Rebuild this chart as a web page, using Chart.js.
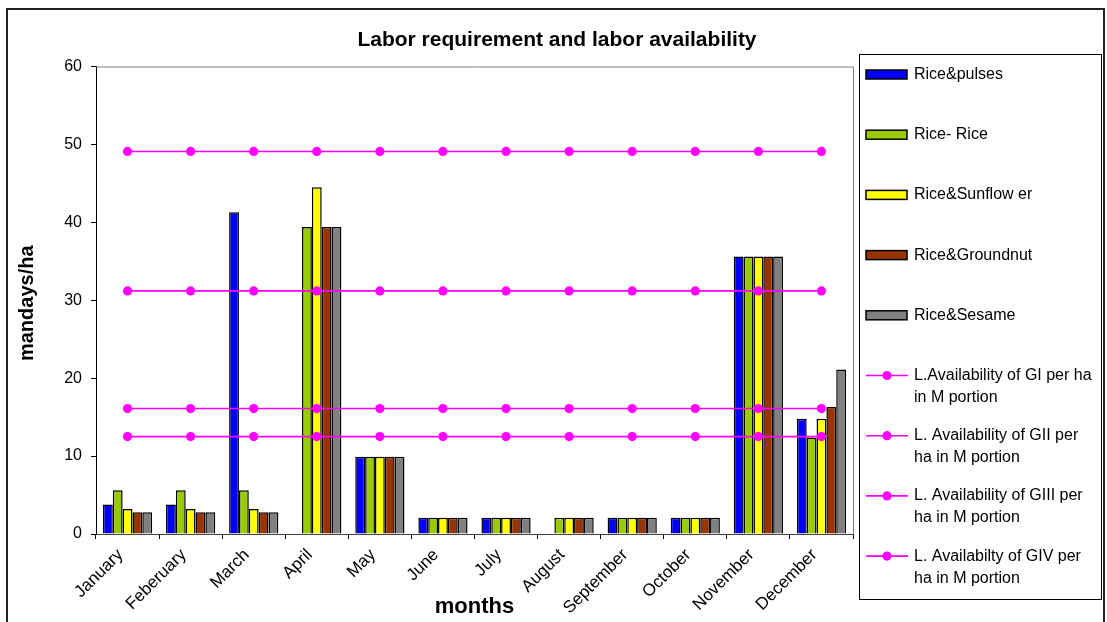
<!DOCTYPE html>
<html>
<head>
<meta charset="utf-8">
<script src="https://cdn.jsdelivr.net/npm/chart.js@4.4.1/dist/chart.umd.min.js"></script>
<style>
  html, body { margin: 0; padding: 0; background: #ffffff; }
  #wrap { width: 1107px; height: 622px; position: relative; }
</style>
</head>
<body>
<div id="wrap"><canvas id="chart" width="1107" height="622"></canvas></div>
<script>
// Months on the category axis
const months = ['January', 'Feberuary', 'March', 'April', 'May', 'June', 'July',
                'August', 'September', 'October', 'November', 'December'];

// Labor requirement (mandays/ha) per cropping pattern
const ricePulses     = [3.8, 3.8, 41.3, null, 9.9, 2.1, 2.1, null, 2.1, 2.1, 35.6, 14.8];
const riceRice       = [5.6, 5.6, 5.6, 39.4, 9.9, 2.1, 2.1, 2.1, 2.1, 2.1, 35.6, 12.4];
const riceSunflower  = [3.2, 3.2, 3.2, 44.5, 9.9, 2.1, 2.1, 2.1, 2.1, 2.1, 35.6, 14.8];
const riceGroundnut  = [2.8, 2.8, 2.8, 39.4, 9.9, 2.1, 2.1, 2.1, 2.1, 2.1, 35.6, 16.3];
const riceSesame     = [2.8, 2.8, 2.8, 39.4, 9.9, 2.1, 2.1, 2.1, 2.1, 2.1, 35.6, 21.1];

// Labor availability per ha in M portion, by group
const availGI   = [49.1, 49.1, 49.1, 49.1, 49.1, 49.1, 49.1, 49.1, 49.1, 49.1, 49.1, 49.1];
const availGII  = [31.2, 31.2, 31.2, 31.2, 31.2, 31.2, 31.2, 31.2, 31.2, 31.2, 31.2, 31.2];
const availGIII = [16.1, 16.1, 16.1, 16.1, 16.1, 16.1, 16.1, 16.1, 16.1, 16.1, 16.1, 16.1];
const availGIV  = [12.5, 12.5, 12.5, 12.5, 12.5, 12.5, 12.5, 12.5, 12.5, 12.5, 12.5, 12.5];

// Y axis range
const yMin = 0, yMax = 60, yStep = 10;

const FONT = '"Liberation Sans", Arial, Helvetica, sans-serif';
const MAGENTA = '#FF00FF';

function barSet(label, data, color) {
  return {
    type: 'bar', label, data,
    backgroundColor: color, borderColor: '#000000', borderWidth: 1.5,
    categoryPercentage: 0.78, barPercentage: 1.0, order: 1
  };
}
function lineSet(lines, data) {
  return {
    type: 'line', label: lines.join(' '), legendLines: lines, data,
    borderColor: MAGENTA, backgroundColor: MAGENTA, borderWidth: 1.6,
    pointRadius: 4.6, pointHoverRadius: 4.6, pointBorderWidth: 0,
    pointBackgroundColor: MAGENTA, fill: false, tension: 0, order: 0
  };
}

// Frame, titles and the boxed legend on the right
const decorations = {
  id: 'decorations',
  beforeDatasetsDraw(chart) {
    const { ctx, chartArea: a } = chart;
    ctx.save();
    ctx.strokeStyle = '#808080';
    ctx.lineWidth = 1;
    ctx.beginPath();
    ctx.moveTo(a.left, a.top + 0.5);
    ctx.lineTo(a.right + 0.5, a.top + 0.5);
    ctx.lineTo(a.right + 0.5, a.bottom);
    ctx.stroke();
    ctx.restore();
  },
  afterDraw(chart) {
    const { ctx, chartArea: a } = chart;
    ctx.save();
    // outer border
    ctx.strokeStyle = '#222222';
    ctx.lineWidth = 2;
    ctx.strokeRect(7, 9, 1097, 640);

    ctx.fillStyle = '#000000';
    ctx.textAlign = 'center';
    ctx.textBaseline = 'middle';
    ctx.font = 'bold 21px ' + FONT;
    ctx.fillText('Labor requirement and labor availability', 557, 40);

    ctx.font = 'bold 22px ' + FONT;
    ctx.fillText('months', (a.left + a.right) / 2, 607);

    ctx.save();
    ctx.translate(27, (a.top + a.bottom) / 2 + 3);
    ctx.rotate(-Math.PI / 2);
    ctx.font = 'bold 20px ' + FONT;
    ctx.fillText('mandays/ha', 0, 0);
    ctx.restore();

    // legend box
    ctx.strokeStyle = '#000000';
    ctx.lineWidth = 1;
    ctx.strokeRect(859.5, 54.5, 242, 545);
    ctx.font = '16px ' + FONT;
    ctx.textAlign = 'left';
    chart.data.datasets.forEach((ds, i) => {
      const y = 74.5 + i * 60.2;
      if (ds.type === 'bar') {
        ctx.fillStyle = ds.backgroundColor;
        ctx.fillRect(866, y - 4.5, 41, 9);
        ctx.strokeStyle = '#000000';
        ctx.lineWidth = 1.5;
        ctx.strokeRect(866, y - 4.5, 41, 9);
        ctx.fillStyle = '#000000';
        ctx.fillText(ds.label, 914, y);
      } else {
        ctx.strokeStyle = MAGENTA;
        ctx.lineWidth = 1.6;
        ctx.beginPath();
        ctx.moveTo(866, y);
        ctx.lineTo(908, y);
        ctx.stroke();
        ctx.fillStyle = MAGENTA;
        ctx.beginPath();
        ctx.arc(887, y, 4.6, 0, Math.PI * 2);
        ctx.fill();
        ctx.fillStyle = '#000000';
        ds.legendLines.forEach((t, k) => ctx.fillText(t, 914, y + k * 22));
      }
    });
    ctx.restore();
  }
};

new Chart(document.getElementById('chart'), {
  type: 'bar',
  data: {
    labels: months,
    datasets: [
      barSet('Rice&pulses', ricePulses, '#0000FF'),
      barSet('Rice- Rice', riceRice, '#99CC00'),
      barSet('Rice&Sunflow er', riceSunflower, '#FFFF00'),
      barSet('Rice&Groundnut', riceGroundnut, '#993300'),
      barSet('Rice&Sesame', riceSesame, '#808080'),
      lineSet(['L.Availability of GI per ha', 'in M portion'], availGI),
      lineSet(['L. Availability of GII per', 'ha in M portion'], availGII),
      lineSet(['L. Availability of GIII per', 'ha in M portion'], availGIII),
      lineSet(['L. Availabilty of GIV per', 'ha in M portion'], availGIV)
    ]
  },
  options: {
    responsive: false,
    animation: false,
    devicePixelRatio: 1,
    layout: { padding: { top: 66.5, right: 254, left: 0, bottom: 0 } },
    plugins: { legend: { display: false }, title: { display: false }, tooltip: { enabled: false } },
    scales: {
      x: {
        grid: { display: true, drawOnChartArea: false, drawTicks: true, tickLength: 5, tickColor: '#000000', offset: true },
        border: { display: true, color: '#444444', width: 1 },
        ticks: { color: '#000000', font: { family: FONT, size: 17 }, minRotation: 45, maxRotation: 45, padding: 6, labelOffset: -7, autoSkip: false },
        afterFit(scale) { scale.height = 88; }
      },
      y: {
        min: yMin, max: yMax,
        grid: { display: true, drawOnChartArea: false, drawTicks: true, tickLength: 5, tickColor: '#000000' },
        border: { display: true, color: '#000000', width: 1 },
        ticks: { stepSize: yStep, color: '#000000', font: { family: FONT, size: 16 }, padding: 9 },
        afterFit(scale) { scale.width = 96; }
      }
    }
  },
  plugins: [decorations]
});
</script>
</body>
</html>
